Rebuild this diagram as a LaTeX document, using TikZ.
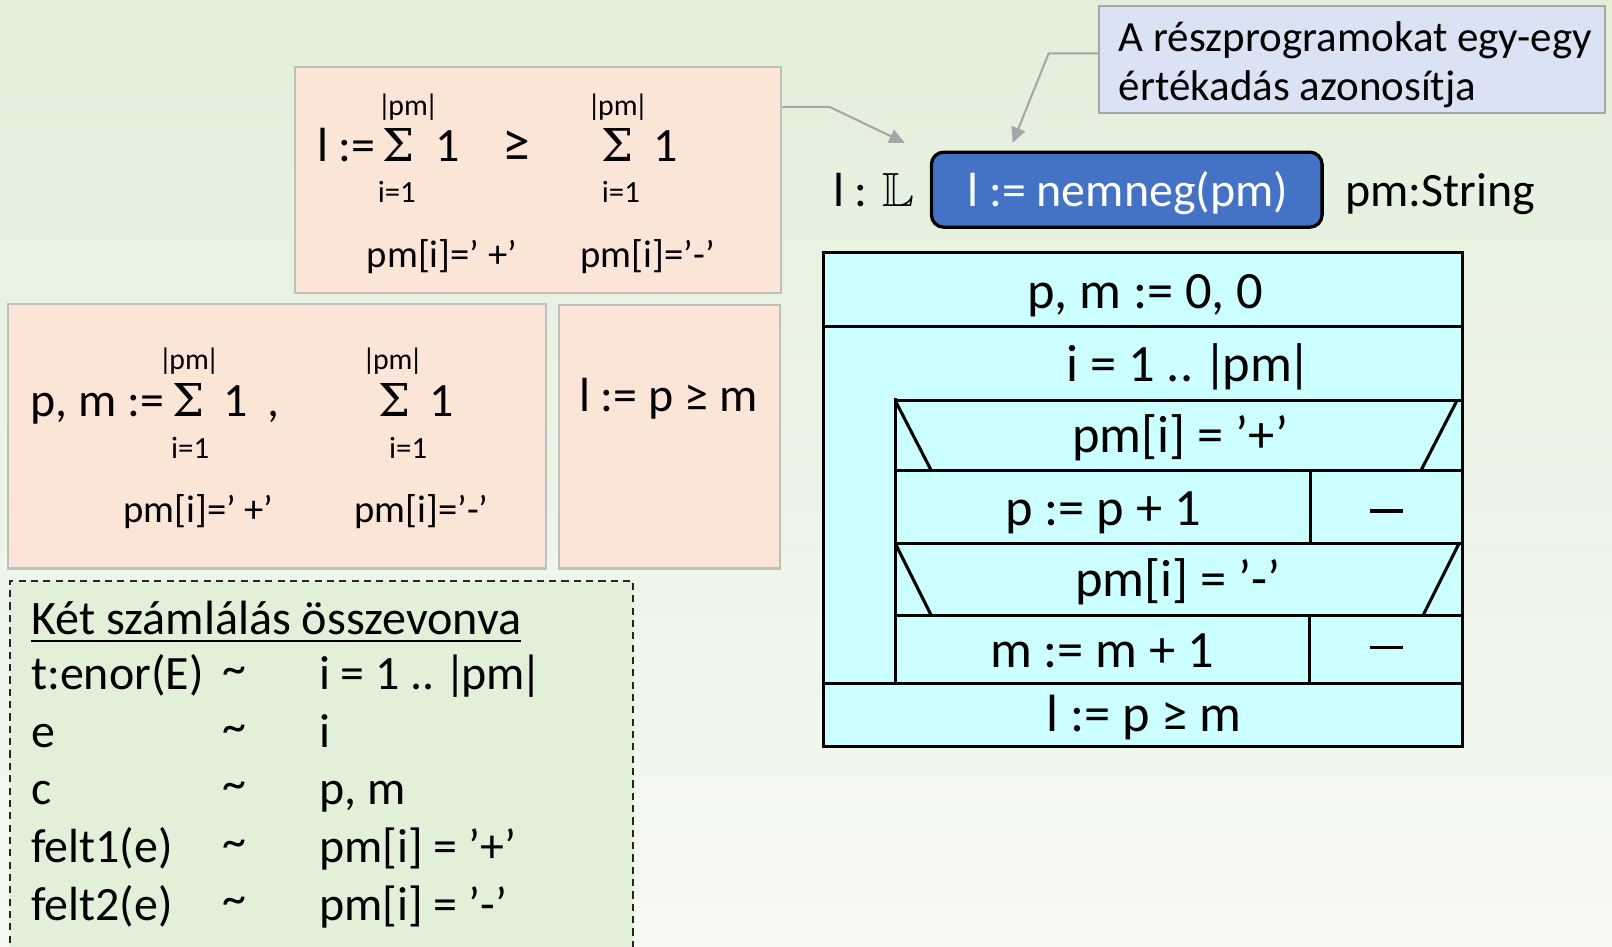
\documentclass[tikz,border=0pt]{standalone}
\usepackage{amssymb}
\usepackage{fontspec}
\setmainfont{Carlito}
\newfontfamily\sigfont{DejaVu Serif}
\usetikzlibrary{arrows.meta,fit}
\definecolor{peach}{RGB}{251,229,214}
\definecolor{peachline}{RGB}{191,191,191}
\definecolor{callfill}{RGB}{218,227,243}
\definecolor{callline}{RGB}{166,166,166}
\definecolor{bluebox}{RGB}{68,114,196}
\definecolor{nsdfill}{RGB}{204,255,255}
\definecolor{dashfill}{RGB}{226,239,217}
\definecolor{bgtop}{RGB}{226,239,218}
\definecolor{bgbot}{RGB}{246,249,243}
\definecolor{arrowgray}{RGB}{166,166,166}
\newcommand\szN{\fontsize{23.3}{28}\selectfont}
\newcommand\szT{\fontsize{23.4}{28}\selectfont}
\newcommand\szC{\fontsize{20.9}{25}\selectfont}
\newcommand\szD{\fontsize{25.5}{30}\selectfont}
\newcommand\szS{\fontsize{14.5}{17}\selectfont}
\newcommand\szI{\fontsize{15}{18}\selectfont}
\newcommand\szP{\fontsize{18.8}{22}\selectfont}
\newcommand\szE{\fontsize{27}{32}\selectfont}
\newcommand\bpm{\kern-0.1em|\kern-0.1em pm\kern-0.1em|\kern-0.1em}
\newcommand\bigsig{{\sigfont\fontsize{22}{26}\selectfont\symbol{"03A3}}}
\begin{document}
\begin{tikzpicture}[x=0.5pt,y=-0.5pt,
  txt/.style={inner sep=0pt, anchor=base, font=\szN},
  txtl/.style={txt, anchor=base west},
  sig/.style={inner sep=0pt, anchor=base},
  geq/.style={inner sep=0pt, anchor=base, font=\szE},
  small/.style={inner sep=0pt, anchor=base, font=\szS},
  lim/.style={inner sep=0pt, anchor=base, font=\szI},
  cond/.style={inner sep=0pt, anchor=base, font=\szP},
  nsdtxt/.style={inner sep=0pt, anchor=base, font=\szD},
  peachbox/.style={draw=peachline, fill=peach, line width=1pt, inner sep=0pt},
  callbox/.style={draw=callline, fill=callfill, line width=1pt, inner sep=0pt},
  bluenode/.style={draw=black, fill=bluebox, line width=1.6pt, rounded corners=6pt, inner sep=0pt},
  dashbox/.style={draw=black!85, fill=dashfill, line width=0.8pt, dash pattern=on 3.5pt off 2.5pt, inner sep=0pt},
  nsdline/.style={draw=black, line width=1.5pt},
  nodash/.style={inner sep=0pt, anchor=center},
  garrow/.style={draw=arrowgray, line width=1pt, -{Triangle[length=7.5pt,width=7pt]}}
]
\useasboundingbox (0,0) rectangle (1568,921);
\shade[top color=bgtop, bottom color=bgbot] (0,0) rectangle (1568,921);

% ---------- box 1 ----------
\coordinate (b1a) at (287,65);
\coordinate (b1b) at (760,285);
\node[peachbox, fit=(b1a)(b1b)] (box1) {};
\node[txtl] (b1l) at (308,157) {l :=};
\node[sig] (b1s1) at (388,157) {\bigsig};
\node[txt] (b1o1) at (435,157) {1};
\node[geq] (b1ge) at (502,157) {≥};
\node[sig] (b1s2) at (601,157) {\bigsig};
\node[txt] (b1o2) at (647,157) {1};
\node[small] (b1u1) at (397,112) {\bpm};
\node[small] (b1u2) at (601,112) {\bpm};
\node[lim] (b1d1) at (386,197) {i=1};
\node[lim] (b1d2) at (604,197) {i=1};
\node[cond] (b1c1) at (430,260) {pm[i]=’ +’};
\node[cond] (b1c2) at (630,260) {pm[i]=’-’};

% ---------- box 2 ----------
\coordinate (b2a) at (8,296);
\coordinate (b2b) at (531,553);
\node[peachbox, fit=(b2a)(b2b)] (box2) {};
\node[txtl] (b2l) at (29,405) {p, m :=};
\node[sig] (b2s1) at (183,405) {\bigsig};
\node[txt] (b2o1) at (229,405) {1};
\node[txt] (b2cm) at (266,405) {,};
\node[sig] (b2s2) at (384,405) {\bigsig};
\node[txt] (b2o2) at (430,405) {1};
\node[small] (b2u1) at (184,359) {\bpm};
\node[small] (b2u2) at (382,359) {\bpm};
\node[lim] (b2d1) at (185,446) {i=1};
\node[lim] (b2d2) at (397,446) {i=1};
\node[cond] (b2c1) at (193,508) {pm[i]=’ +’};
\node[cond] (b2c2) at (410,508) {pm[i]=’-’};

% ---------- box 3 ----------
\coordinate (b3a) at (544,297);
\coordinate (b3b) at (759,553);
\node[peachbox, fit=(b3a)(b3b)] (box3) {};
\node[txt] (b3t) at (650,400) {l := p ≥ m};

% ---------- dashed box ----------
\coordinate (dba) at (10,565);
\coordinate (dbb) at (616,940);
\node[dashbox, fit=(dba)(dbb)] (dbox) {};
\node[inner sep=0pt, anchor=base west, font=\szT] (title) at (30,617) {\underline{Két számlálás összevonva}};
\foreach \y/\a/\b [count=\k] in {671/t:enor(E)/i = 1 .. \bpm, 727/e/i, 783/c/{p, m}, 839/felt1(e)/pm[i] = ’+’, 895/felt2(e)/pm[i] = ’-’}{
  \node[txtl] (ra\k) at (30,\y) {\a};
  \node[txt] (rt\k) at (228,\y) {\raisebox{2.5pt}{\textasciitilde}};
  \node[txtl] (rb\k) at (310,\y) {\b};
}

% ---------- callout ----------
\coordinate (ca) at (1069,6);
\coordinate (cb) at (1561,110);
\node[callbox, fit=(ca)(cb)] (callout) {};
\node[inner sep=0pt, anchor=base west, font=\szC] (cl1) at (1088,50) {A részprogramokat egy-egy};
\node[inner sep=0pt, anchor=base west, font=\szC] (cl2) at (1088,98) {értékadás azonosítja};

% ---------- header line ----------
\coordinate (bla) at (906,148);
\coordinate (blb) at (1286,221);
\node[bluenode, fit=(bla)(blb)] (blue) {};
\node[txt, text=white] (bluet) at (1097,201) {l := nemneg(pm)};
\node[txtl] (ltype) at (810,201) {l : $\mathbb{L}$};
\node[txtl] (pmtype) at (1308,201) {pm:String};

% ---------- connectors ----------
\coordinate (bend1) at (807,104);
\coordinate (tip1) at (880,139);
\draw[garrow] (box1.east |- bend1) -- (bend1) -- (tip1);
\coordinate (bend2) at (1020,52);
\coordinate (tip2) at (985,139);
\draw[garrow] (callout.west |- bend2) -- (bend2) -- (tip2);

% ---------- structogram ----------
\filldraw[nsdline, fill=nsdfill] (801,246) rectangle (1423,726);
\draw[nsdline] (801,318) -- (1423,318);
\draw[nsdline] (871,390) -- (1423,390);
\draw[nsdline] (871,387) -- (871,665);
\draw[nsdline] (871,458) -- (1423,458);
\draw[nsdline] (871,529) -- (1423,529);
\draw[nsdline] (871,599) -- (1423,599);
\draw[nsdline] (801,665) -- (1423,665);
\draw[nsdline] (871,390) -- (906,458);
\draw[nsdline] (1417,390) -- (1382,458);
\draw[nsdline] (871,529) -- (906,599);
\draw[nsdline] (1419,529) -- (1384,599);
\draw[nsdline] (1275,458) -- (1275,529);
\draw[nsdline] (1274,599) -- (1274,665);
\node[nsdtxt] (n1) at (1114,300) {p, m := 0, 0};
\node[nsdtxt] (n2) at (1154,371) {i = 1 .. \bpm};
\node[nsdtxt] (n3) at (1148,440) {pm[i] = ’+’};
\node[nsdtxt] (n4) at (1073,511) {p := p + 1};
\node[nsdtxt] (n5) at (1146,580) {pm[i] = ’-’};
\node[nsdtxt] (n6) at (1072,649) {m := m + 1};
\node[nsdtxt] (n7) at (1113,712) {l := p ≥ m};
\node[nodash] (d1) at (1349,497) {\rule{16pt}{1.6pt}};
\node[nodash] (d2) at (1349,630) {\rule{16pt}{1.6pt}};
\end{tikzpicture}
\end{document}
